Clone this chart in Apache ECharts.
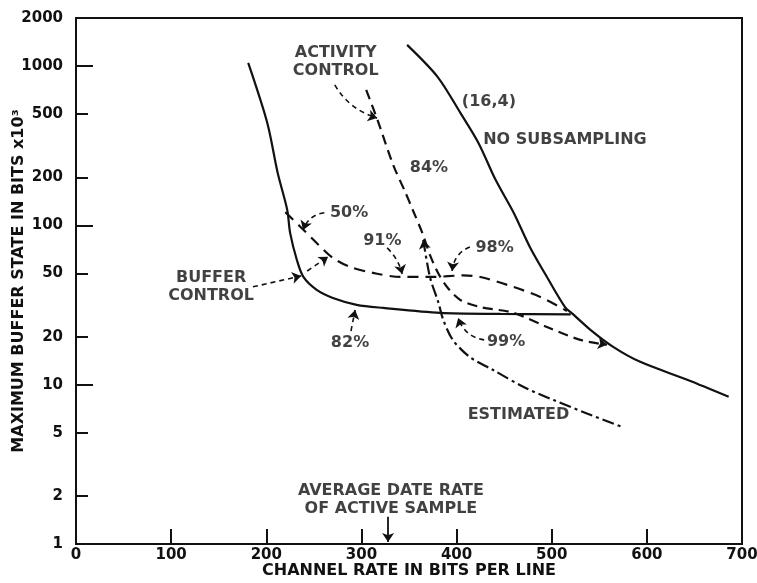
<!DOCTYPE html>
<html>
<head>
<meta charset="utf-8">
<script src="https://cdn.jsdelivr.net/npm/echarts@6/dist/echarts.min.js"></script>
<style>html,body{margin:0;padding:0;background:#fff}#c{width:757px;height:583px}</style>
</head>
<body>
<div id="c"></div>
<script>
// ---- data (x: channel rate, bits/line; y: max buffer state, bits x10^3) ----
const xTicks = [0, 100, 200, 300, 400, 500, 600, 700];
const yTicks = [1, 2, 5, 10, 20, 50, 100, 200, 500, 1000, 2000];

const bufferX = [181, 201, 212, 222, 225, 232, 239, 253, 270, 295, 323, 383, 446, 520];
const bufferY = [1045, 440, 213, 125, 90, 61, 47.4, 39.3, 35, 31.7, 30.3, 28.2, 27.8, 27.6];

const buffer50X = [220, 236, 253, 270, 288, 312, 341, 375, 407, 425, 460, 488, 516];
const buffer50Y = [121, 97.7, 77.5, 62.4, 54.8, 50.3, 47.4, 47.4, 48.5, 47.4, 41, 35.5, 29];

const activityX = [305, 317.6, 333.3, 346, 354.4, 364, 372, 380, 390, 404, 425, 460, 495, 530, 558];
const activityY = [708, 446, 240, 162, 123, 89.6, 65.2, 51, 41, 34, 30.7, 28.2, 23, 19.1, 17.8];

const estimatedX = [365, 372, 381, 386, 396, 414, 438, 470, 502, 537, 575];
const estimatedY = [81, 47.4, 32.6, 25.5, 19.1, 14.9, 12.4, 9.7, 8.0, 6.6, 5.4];

const noSubX = [348, 380, 404, 423, 441, 460, 477, 495, 514, 522, 541, 565, 593, 643, 686];
const noSubY = [1356, 855, 508, 329, 193, 120, 73.2, 47.4, 30.7, 27.8, 22, 17.2, 13.9, 10.7, 8.4];

// annotation texts and their anchor points (data units)
const noteTexts = ['ACTIVITY\nCONTROL', '(16,4)', 'NO SUBSAMPLING', '84%', '50%', '91%', '98%',
                   'BUFFER\nCONTROL', '82%', '99%', 'ESTIMATED', 'AVERAGE DATE RATE\nOF ACTIVE SAMPLE'];
const noteX = [273, 434, 428, 371, 287, 322, 440, 142, 288, 452, 465, 331];
const noteY = [1061, 595, 344, 229, 120, 79.8, 72.1, 41, 18.3, 18.5, 6.45, 1.89];

// leader arrows: start point -> arrow point (data units)
const leaderFromX = [272, 261, 327, 414, 186, 243, 289, 429];
const leaderFromY = [761, 120, 72.1, 73.2, 41.1, 51.7, 21.7, 19.1];
const leaderToX   = [316.5, 238.7, 342.8, 395.4, 236.6, 265, 293.4, 401.7];
const leaderToY   = [472, 93.6, 49.5, 51.7, 48.1, 63.4, 29.4, 26.2];
const leaderBend  = [-0.2, -0.3, 0.15, -0.3, 0, 0, 0, 0.3];

const avgRateX = 328;
const avgArrowY = [1.48, 1.03];

// ---- build ----
const FONT = 'DejaVu Sans';
const INK = '#111';
const pairs = (xs, ys) => xs.map((x, i) => [x, ys[i]]);
const lineStyleBase = {color: INK, width: 2.2};
const lastSeg = (xs, ys) => [[xs[xs.length - 2], ys[ys.length - 2]], [xs[xs.length - 1], ys[ys.length - 1]]];

const noteData = noteTexts.map((t, i) => ({
  value: [noteX[i], noteY[i], t],
  label: t === 'NO SUBSAMPLING' ? {position: 'right', offset: [-5, 0]} : {}
}));

const leaders = leaderFromX.map((x, i) => ({
  coords: [[x, leaderFromY[i]], [leaderToX[i], leaderToY[i]]],
  lineStyle: {curveness: leaderBend[i]}
}));

// curve-end arrowheads (taken from the curves' own end segments)
const curveArrows = [
  {coords: lastSeg(activityX, activityY)},
  {coords: [[estimatedX[1], estimatedY[1]], [estimatedX[0], estimatedY[0]]]}
];

const SMOOTH = 0.3;
const chart = echarts.init(document.getElementById('c'), null, {renderer: 'canvas'});
chart.setOption({
  backgroundColor: '#fff',
  animation: false,
  grid: {left: 76, right: 15, top: 18, bottom: 39, containLabel: false, outerBoundsMode: 'none',
         show: true, borderColor: INK, borderWidth: 2, backgroundColor: 'transparent'},
  xAxis: {
    type: 'value', min: 0, max: 700, interval: 100,
    name: 'CHANNEL RATE IN BITS PER LINE', nameLocation: 'middle', nameGap: 19, nameMoveOverlap: false,
    nameTextStyle: {fontFamily: FONT, fontSize: 16, fontWeight: 'bold', color: INK},
    axisLine: {show: true, lineStyle: {color: INK, width: 2}},
    axisTick: {show: true, inside: true, length: 15, lineStyle: {color: INK, width: 2}},
    axisLabel: {fontFamily: FONT, fontSize: 15, fontWeight: 'bold', color: INK, margin: 4, formatter: v => String(v)},
    splitLine: {show: false}
  },
  yAxis: [{
    type: 'log', logBase: 10, min: 1, max: 2000,
    name: 'MAXIMUM BUFFER STATE IN BITS x10³', nameLocation: 'middle', nameGap: 49, nameMoveOverlap: false,
    nameTextStyle: {fontFamily: FONT, fontSize: 16, fontWeight: 'bold', color: INK},
    axisLine: {show: true, lineStyle: {color: INK, width: 2}},
    axisTick: {show: true, inside: true, length: 12, customValues: yTicks, lineStyle: {color: INK, width: 2}},
    axisLabel: {customValues: yTicks, fontFamily: FONT, fontSize: 15, fontWeight: 'bold', color: INK, margin: 13, formatter: v => String(v)},
    splitLine: {show: false}
  }, {
    type: 'log', logBase: 10, min: 1, max: 2000, position: 'left',
    axisLine: {show: false},
    axisTick: {show: true, inside: true, length: 17, lineStyle: {color: INK, width: 2}},
    axisLabel: {show: false},
    splitLine: {show: false}
  }],
  series: [
    {type: 'line', name: 'buffer control', data: pairs(bufferX, bufferY), smooth: SMOOTH, showSymbol: false, lineStyle: lineStyleBase},
    {type: 'line', name: 'buffer control 50%', data: pairs(buffer50X, buffer50Y), smooth: SMOOTH, showSymbol: false, lineStyle: Object.assign({}, lineStyleBase, {type: [11, 7]})},
    {type: 'line', name: 'activity control', data: pairs(activityX, activityY), smooth: SMOOTH, showSymbol: false, lineStyle: Object.assign({}, lineStyleBase, {type: [10, 6]})},
    {type: 'line', name: 'estimated', data: pairs(estimatedX, estimatedY), smooth: SMOOTH, showSymbol: false, lineStyle: Object.assign({}, lineStyleBase, {type: [12, 4, 3, 4]})},
    {type: 'line', name: 'no subsampling', data: pairs(noSubX, noSubY), smooth: SMOOTH, showSymbol: false, lineStyle: lineStyleBase},
    {type: 'lines', coordinateSystem: 'cartesian2d', data: leaders, symbol: ['none', 'arrow'], symbolSize: 9,
     lineStyle: {color: INK, width: 1.6, type: [5, 4], opacity: 1}, silent: true},
    {type: 'lines', coordinateSystem: 'cartesian2d', data: curveArrows, symbol: ['none', 'arrow'], symbolSize: 9,
     lineStyle: {color: INK, width: 0.01, opacity: 1}, silent: true},
    {type: 'lines', coordinateSystem: 'cartesian2d', data: [{coords: [[avgRateX, avgArrowY[0]], [avgRateX, avgArrowY[1]]]}],
     symbol: ['none', 'arrow'], symbolSize: 9, lineStyle: {color: INK, width: 1.8, opacity: 1}, silent: true},
    {type: 'scatter', data: noteData, symbolSize: 0, silent: true,
     label: {show: true, position: 'inside', formatter: p => p.value[2], fontFamily: FONT, fontSize: 16, fontWeight: 'bold', lineHeight: 18, color: INK}}
  ]
});
</script>
</body>
</html>
